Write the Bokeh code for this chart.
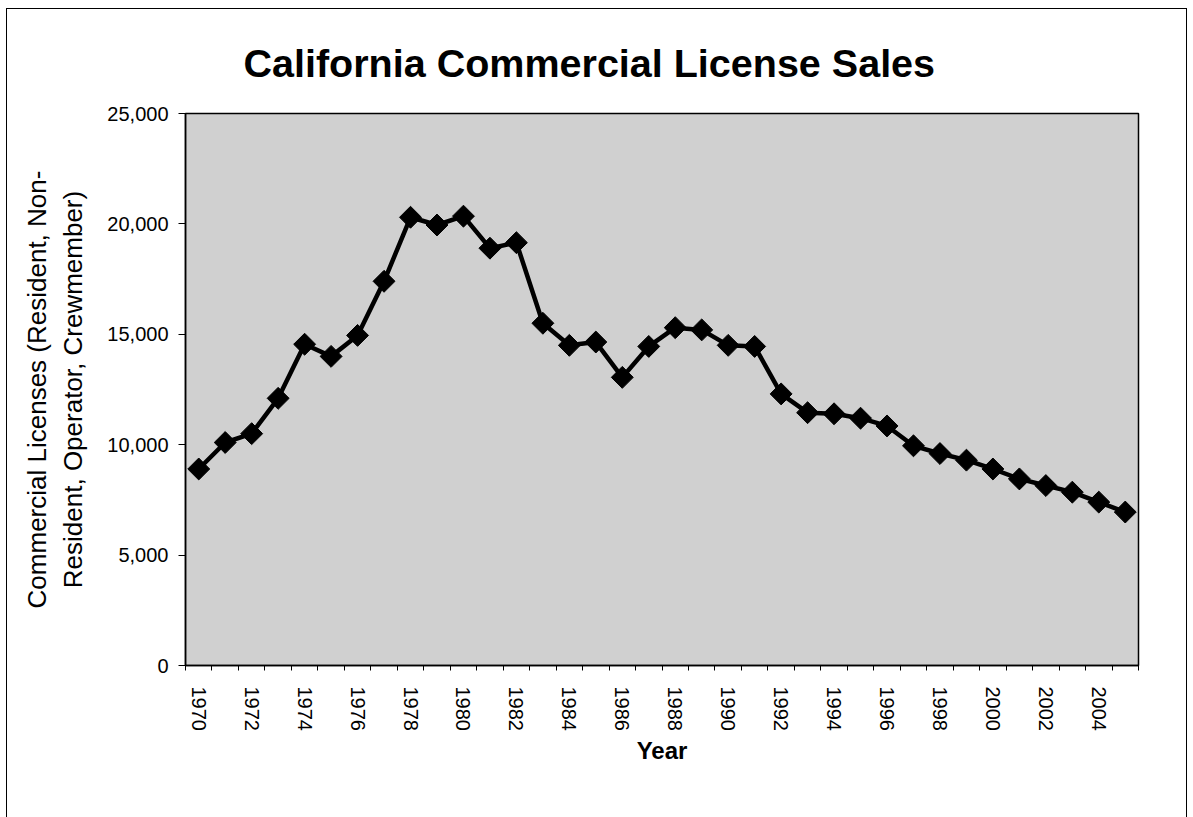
import numpy as np
from bokeh.plotting import figure
from bokeh.models import Range1d, FixedTicker, NumeralTickFormatter, ColumnDataSource
from bokeh.embed import file_html
from bokeh.resources import INLINE

years = list(range(1970, 2006))
licenses = [8900, 10100, 10500, 12100, 14550, 14000, 14950, 17400, 20300, 19950,
            20350, 18900, 19150, 15500, 14500, 14650, 13050, 14450, 15300, 15200,
            14500, 14450, 12300, 11450, 11400, 11200, 10850, 9950, 9600, 9300,
            8900, 8450, 8150, 7850, 7400, 6950]
label_years = list(range(1970, 2005, 2))
y_ticks = [0, 5000, 10000, 15000, 20000, 25000]

title_text = "California Commercial License Sales"
y_label = "Commercial Licenses (Resident, Non-\nResident, Operator, Crewmember)"
x_label = "Year"

FONT = "Liberation Sans"

src = ColumnDataSource(data=dict(year=years, n=licenses))

p = figure(width=1181, height=809, output_backend="svg", toolbar_location=None,
           x_range=Range1d(1969.5, 2005.5), y_range=Range1d(0, 25000),
           min_border_left=178, min_border_right=50, min_border_top=104,
           min_border_bottom=153, background_fill_color="#d0d0d0",
           border_fill_color="white", outline_line_color="black",
           outline_line_width=1.5)

p.title.text = title_text
p.title.align = "left"
p.title.offset = 58
p.title.text_font = FONT
p.title.text_font_size = "39.5px"
p.title.text_font_style = "bold"
p.title.text_color = "black"
p.title.standoff = 57

p.xgrid.visible = False
p.ygrid.visible = False

xa = p.xaxis[0]
xa.ticker = FixedTicker(ticks=label_years, minor_ticks=[y - 0.5 for y in range(1970, 2007)])
xa.major_tick_out = 0
xa.major_tick_in = 0
xa.minor_tick_out = 5
xa.minor_tick_in = 0
xa.minor_tick_line_color = "black"
xa.axis_line_color = "black"
xa.axis_line_width = 1.5
xa.major_label_orientation = -np.pi / 2
xa.major_label_text_font = FONT
xa.major_label_text_font_size = "20px"
xa.major_label_text_color = "black"
xa.major_label_standoff = 16
xa.axis_label = x_label
xa.axis_label_text_font = FONT
xa.axis_label_text_font_size = "24px"
xa.axis_label_text_font_style = "bold"
xa.axis_label_text_color = "black"
xa.axis_label_standoff = 3

ya = p.yaxis[0]
ya.ticker = FixedTicker(ticks=y_ticks)
ya.formatter = NumeralTickFormatter(format="0,0")
ya.major_tick_out = 7
ya.major_tick_in = 0
ya.minor_tick_out = 0
ya.minor_tick_in = 0
ya.axis_line_color = "black"
ya.axis_line_width = 1.5
ya.major_tick_line_color = "black"
ya.major_label_text_font = FONT
ya.major_label_text_font_size = "20px"
ya.major_label_text_color = "black"
ya.major_label_standoff = 10
ya.axis_label = y_label
ya.axis_label_text_font = FONT
ya.axis_label_text_font_size = "26px"
ya.axis_label_text_font_style = "normal"
ya.axis_label_text_color = "black"
ya.axis_label_standoff = 16

p.line("year", "n", source=src, line_color="black", line_width=4.5)
p.scatter("year", "n", source=src, marker="square", angle=np.pi / 4, size=15.5,
          fill_color="black", line_color="black")

p.styles = {"border-left": "1px solid black", "border-top": "1px solid black",
            "border-right": "1px solid black", "margin-left": "6px", "margin-top": "8px"}

open("out.html", "w").write(file_html(p, INLINE))
